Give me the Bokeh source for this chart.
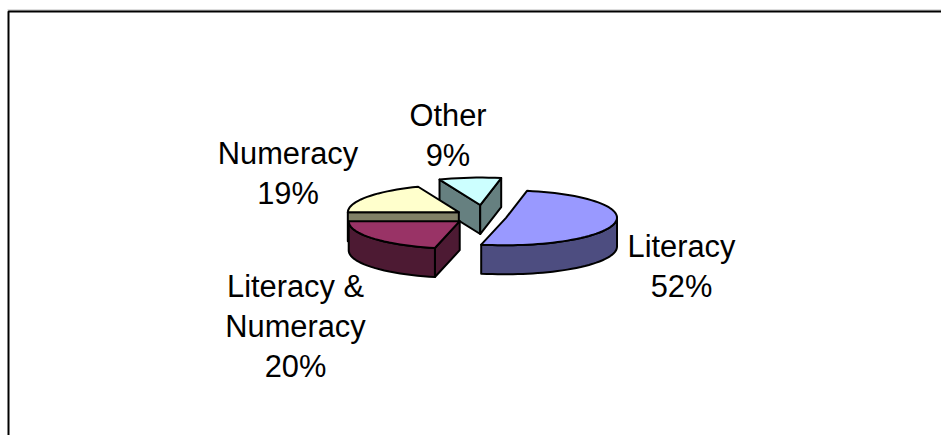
import math
from bokeh.plotting import figure
from bokeh.models import Range1d
from bokeh.core.properties import value
from bokeh.embed import file_html
from bokeh.resources import INLINE

# --- data -------------------------------------------------------------
categories = ["Literacy", "Literacy &\nNumeracy", "Numeracy", "Other"]
percent = [52, 20, 19, 9]

# --- style ------------------------------------------------------------
top_colors = ["#9999FF", "#993366", "#FFFFCC", "#CCFFFF"]
side_colors = ["#4D4D80", "#4D1A33", "#808066", "#668080"]
explode = [0.20, 0.28, 0.28, 0.42]
label_center = [681, 295, 287.5, 447.5]
label_last_baseline = [285.7, 365.7, 193, 155]
LINE_STEP = 40
FONT = "30.8px"

# --- layout of the tilted pie (window pixels) --------------------------
W, H = 941, 435
CX, CY = 484, 216
E0 = (21, -27)     # screen vector of the 12 o'clock radius
E90 = (109, 5)     # screen vector of the 3 o'clock radius
DEPTH = 29
STEP_DEG = 3


def project(theta_deg, apex):
    # the source's perspective pulls the angles near 6 o'clock towards 180 degrees
    th = theta_deg - 5.2 * math.exp(-(((theta_deg - 187.2) / 30.0) ** 2))
    t = math.radians(th)
    return (apex[0] + math.cos(t) * E0[0] + math.sin(t) * E90[0],
            apex[1] + math.cos(t) * E0[1] + math.sin(t) * E90[1])


p = figure(width=W, height=H, x_range=Range1d(0, W), y_range=Range1d(H, 0),
           output_backend="svg", toolbar_location=None, min_border=0,
           x_axis_location=None, y_axis_location=None, outline_line_color=None,
           background_fill_color="white", border_fill_color="white",
           margin=(0, 0, -8, 0))
p.xgrid.visible = False
p.ygrid.visible = False

# chart frame, running off the window on the right and at the bottom
p.line([7, W], [9.5, 9.5], line_color="#BBBBBB", line_width=1)
p.line([8, 8, W], [H, 11, 11], line_color="black", line_width=2)

total = sum(percent)
spans = []
start = 0.0
for v in percent:
    end = start + 360.0 * v / total
    spans.append((start, end))
    start = end


def wedge(i):
    a, b = spans[i]
    mid = (a + b) / 2
    m = project(mid, (0, 0))
    apex = (CX + explode[i] * m[0], CY + explode[i] * m[1])
    n = max(2, int((b - a) / STEP_DEG))
    rim = [project(a + (b - a) * k / n, apex) for k in range(n + 1)]
    return apex, rim


def wall(points):
    xs = [q[0] for q in points] + [q[0] for q in reversed(points)]
    ys = [q[1] for q in points] + [q[1] + DEPTH for q in reversed(points)]
    return xs, ys


def draw_slice(i):
    apex, rim = wedge(i)
    walls = []
    for e0, e1 in ((apex, rim[0]), (rim[-1], apex)):
        if e1[0] < e0[0]:
            walls.append([e0, e1])
    run = []
    last = None
    for q0, q1 in zip(rim, rim[1:]):
        if q1[0] < q0[0]:
            run.append(q0)
            last = q1
        elif run:
            walls.append(run + [last])
            run = []
    if run:
        walls.append(run + [last])
    for w in walls:
        xs, ys = wall(w)
        p.patch(xs, ys, fill_color=side_colors[i], line_color="black", line_width=2, line_join="round")
    ring = [apex] + rim
    p.patch([q[0] for q in ring], [q[1] for q in ring], fill_color=top_colors[i],
            line_color="black", line_width=2, line_join="round")


for i in (3, 2, 1, 0):
    draw_slice(i)

for cat, pct, cx, base in zip(categories, percent, label_center, label_last_baseline):
    lines = cat.split("\n") + [f"{pct}%"]
    for k, s in enumerate(lines):
        y = base - (len(lines) - 1 - k) * LINE_STEP
        p.text([cx], [y], text=[s], text_font=value("Liberation Sans"), text_font_size=FONT,
               text_color="black", text_align="center", text_baseline="alphabetic")

open("out.html", "w").write(file_html(p, INLINE))
